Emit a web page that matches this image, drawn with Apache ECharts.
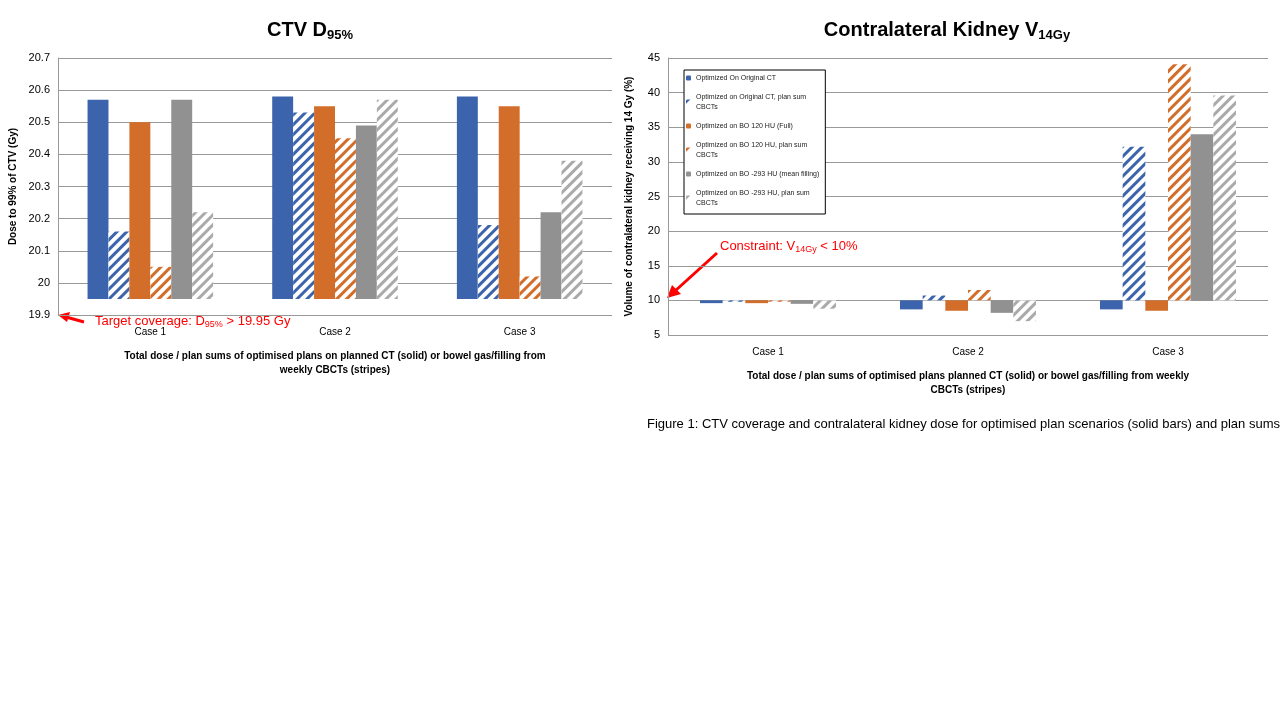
<!DOCTYPE html>
<html><head><meta charset="utf-8">
<script src="https://cdn.jsdelivr.net/npm/echarts@6/dist/echarts.min.js"></script>
<style>html,body{margin:0;background:#fff}#c{width:1280px;height:720px}</style>
</head><body><div id="c"></div>
<script>
var cases = ['Case 1', 'Case 2', 'Case 3'];
var names = ['Optimized On Original CT', 'Optimized on Original CT, plan sum\nCBCTs',
  'Optimized on BO 120 HU (Full)', 'Optimized on BO 120 HU, plan sum\nCBCTs',
  'Optimized on BO -293 HU (mean filling)', 'Optimized on BO -293 HU, plan sum\nCBCTs'];
var colors = ['#3c64ad', '#3c64ad', '#d26d2a', '#d26d2a', '#919191', '#aaaaaa'];
var striped = [false, true, false, true, false, true];
// CTV D95% (Gy), per series over cases
var ctv = [
  [20.57, 20.58, 20.58],
  [20.16, 20.53, 20.18],
  [20.50, 20.55, 20.55],
  [20.05, 20.45, 20.02],
  [20.57, 20.49, 20.22],
  [20.22, 20.57, 20.38]
];
// Contralateral kidney V14Gy (%)
var kid = [
  [9.6, 8.7, 8.7],
  [9.8, 10.7, 32.2],
  [9.6, 8.5, 8.5],
  [9.8, 11.5, 44.1],
  [9.5, 8.2, 34.0],
  [8.8, 7.0, 39.6]
];
var ctvBase = 19.95, kidBase = 10;

var chart = echarts.init(document.getElementById('c'));
function mk(data, base, ax) {
  return data.map(function (arr, i) {
    var s = {
      name: names[i], type: 'bar', xAxisIndex: ax, yAxisIndex: ax,
      barGap: '0%', barCategoryGap: '32%',
      data: arr.map(function (v) { return +(v - base).toFixed(3); }),
      itemStyle: { color: colors[i] }
    };
    if (striped[i]) {
      s.itemStyle = { color: '#fff', decal: { symbol: 'rect', color: colors[i], dashArrayX: [1, 0], dashArrayY: [3, 4], rotation: -Math.PI / 4, symbolSize: 1 } };
    }
    if (ax === 1) s.legendHoverLink = false;
    return s;
  });
}
var series = mk(ctv, ctvBase, 0).concat(mk(kid, kidBase, 1));
series.forEach(function (s, i) { if (i < 6) s.name = names[i]; });
var axFont = { fontFamily: 'Liberation Sans', color: '#000' };
chart.setOption({
  animation: false,
  aria: { enabled: false },
  title: [
    { text: 'CTV D{s|95%}', left: 305, top: 14, textAlign: 'center',
      textStyle: { fontFamily: 'Liberation Sans', fontSize: 20, fontWeight: 'bold', color: '#000',
        rich: { s: { fontSize: 13, fontWeight: 'bold', verticalAlign: 'bottom', padding: [10, 0, 0, 0] } } } },
    { text: 'Contralateral Kidney V{s|14Gy}', left: 942, top: 14, textAlign: 'center',
      textStyle: { fontFamily: 'Liberation Sans', fontSize: 20, fontWeight: 'bold', color: '#000',
        rich: { s: { fontSize: 13, fontWeight: 'bold', verticalAlign: 'bottom', padding: [10, 0, 0, 0] } } } }
  ],
  legend: {
    data: names, orient: 'vertical', left: 684, top: 70, itemWidth: 5, itemHeight: 5, itemGap: 9,
    padding: [3, 6, 6, 2], borderColor: '#000', borderWidth: 1, backgroundColor: '#fff',
    textStyle: { fontFamily: 'Liberation Sans', fontSize: 7, color: '#222', lineHeight: 10 }
  },
  grid: [
    { left: 58, right: 668, top: 58, bottom: 405 },
    { left: 668, right: 12, top: 58, bottom: 385 }
  ],
  xAxis: [0, 1].map(function (i) {
    return {
      type: 'category', gridIndex: i, data: cases,
      axisLine: { show: false }, axisTick: { show: false },
      axisLabel: { fontFamily: 'Liberation Sans', fontSize: 10, color: '#000', margin: i ? 12 : 12 },
      name: i ? 'Total dose / plan sums of optimised plans planned CT (solid) or bowel gas/filling from weekly\nCBCTs (stripes)'
              : 'Total dose / plan sums of optimised plans on planned CT (solid) or bowel gas/filling from\nweekly CBCTs (stripes)',
      nameLocation: 'middle', nameGap: 34,
      nameTextStyle: { fontFamily: 'Liberation Sans', fontSize: 10, fontWeight: 'bold', color: '#000', lineHeight: 14 }
    };
  }),
  yAxis: [
    { type: 'value', gridIndex: 0, min: -0.05, max: 0.75, interval: 0.1,
      axisLine: { show: true, lineStyle: { color: '#999' } },
      splitLine: { lineStyle: { color: '#999' } },
      axisLabel: { fontFamily: 'Liberation Sans', fontSize: 11, color: '#000',
        formatter: function (v) { return String(+(v + ctvBase).toFixed(1)); } },
      name: 'Dose to 99% of CTV (Gy)', nameLocation: 'middle', nameGap: 40,
      nameTextStyle: { fontFamily: 'Liberation Sans', fontSize: 10, fontWeight: 'bold', color: '#000' } },
    { type: 'value', gridIndex: 1, min: -5, max: 35, interval: 5,
      axisLine: { show: true, lineStyle: { color: '#999' } },
      splitLine: { lineStyle: { color: '#999' } },
      axisLabel: { fontFamily: 'Liberation Sans', fontSize: 11, color: '#000',
        formatter: function (v) { return String(Math.round(v + kidBase)); } },
      name: 'Volume of contralateral kidney receiving 14 Gy (%)', nameLocation: 'middle', nameGap: 34,
      nameTextStyle: { fontFamily: 'Liberation Sans', fontSize: 10, fontWeight: 'bold', color: '#000' } }
  ],
  series: series,
  graphic: [
    { type: 'polyline', shape: { points: [[84, 322], [66, 317]] }, style: { stroke: '#f00', lineWidth: 3 } },
    { type: 'polygon', shape: { points: [[58, 315], [70, 312], [67, 322]] }, style: { fill: '#f00' } },
    { type: 'text', left: 95, top: 315, style: { text: 'Target coverage: D{s|95%} > 19.95 Gy', fill: '#f00',
      font: '13px "Liberation Sans"', rich: { s: { fontSize: 9, fill: '#f00', padding: [6, 0, 0, 0] } } } },
    { type: 'polyline', shape: { points: [[717, 253], [675, 291]] }, style: { stroke: '#f00', lineWidth: 3 } },
    { type: 'polygon', shape: { points: [[667, 298], [672, 285], [681, 294]] }, style: { fill: '#f00' } },
    { type: 'text', left: 720, top: 240, style: { text: 'Constraint: V{s|14Gy} < 10%', fill: '#f00',
      font: '13px "Liberation Sans"', rich: { s: { fontSize: 9, fill: '#f00', padding: [6, 0, 0, 0] } } } },
    { type: 'text', left: 647, top: 418, style: { text: 'Figure 1: CTV coverage and contralateral kidney dose for optimised plan scenarios (solid bars) and plan sums recalculated on manual bowel overrides from weekly CBCTs (striped bars)',
      fill: '#000', font: '13px "Liberation Sans"', align: 'center' } }
  ]
});
</script></body></html>
